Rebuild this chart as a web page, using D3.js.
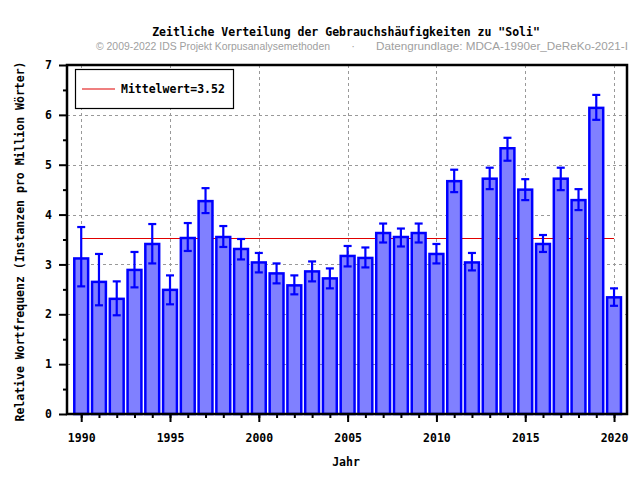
<!DOCTYPE html>
<html><head><meta charset="utf-8">
<script src="https://cdn.jsdelivr.net/npm/d3@7"></script>
<style>body{margin:0;background:#fff}svg{display:block}</style>
</head><body>
<script>
const years = d3.range(1990, 2021);
const values = [3.12,2.65,2.31,2.89,3.41,2.49,3.53,4.27,3.55,3.31,3.04,2.82,2.58,2.86,2.72,3.17,3.13,3.63,3.55,3.63,3.21,4.67,3.04,4.72,5.33,4.50,3.41,4.72,4.29,6.14,2.34];
const upper  = [3.75,3.21,2.66,3.25,3.81,2.78,3.83,4.53,3.77,3.51,3.23,3.02,2.78,3.06,2.92,3.37,3.34,3.82,3.72,3.82,3.41,4.90,3.23,4.94,5.54,4.71,3.59,4.94,4.51,6.40,2.52];
const lower  = [2.56,2.18,1.98,2.54,3.02,2.20,3.27,4.03,3.35,3.10,2.84,2.62,2.40,2.66,2.52,2.96,2.94,3.44,3.36,3.44,3.02,4.45,2.88,4.51,5.08,4.29,3.25,4.49,4.09,5.90,2.17];
const meanValue = 3.52;
const yTicks = [0,1,2,3,4,5,6,7];
const xTicks = [1990,1995,2000,2005,2010,2015,2020];
const title = 'Zeitliche Verteilung der Gebrauchshäufigkeiten zu "Soli"';
const subLeft = '© 2009-2022 IDS Projekt Korpusanalysemethoden';
const subRight = 'Datengrundlage: MDCA-1990er_DeReKo-2021-I';
const xLabel = 'Jahr';
const yLabel = 'Relative Wortfrequenz (Instanzen pro Million Wörter)';
const legendLabel = 'Mittelwert=' + meanValue.toFixed(2);

const W = 640, H = 480;
const L = 67, R = 627, T = 65, B = 414;
const mono = '"DejaVu Sans Mono", monospace';

const svg = d3.select('body').append('svg').attr('width', W).attr('height', H);
const x = d3.scaleLinear().domain([1989.2, 2020.73]).range([L, R]);
const y = d3.scaleLinear().domain([0, 7]).range([B, T]);

// grid
const grid = svg.append('g').attr('stroke', '#999').attr('stroke-dasharray', '3,3').attr('stroke-width', 1);
grid.selectAll('line.h').data(yTicks.filter(v => v > 0 && v < 7)).join('line')
  .attr('x1', L).attr('x2', R).attr('y1', d => Math.round(y(d)) + 0.5).attr('y2', d => Math.round(y(d)) + 0.5);
grid.selectAll('line.v').data(xTicks).join('line')
  .attr('y1', T).attr('y2', B).attr('x1', d => Math.round(x(d)) + 0.5).attr('x2', d => Math.round(x(d)) + 0.5);

// mean line
svg.append('line').attr('x1', x(1990)).attr('x2', x(2020)).attr('y1', y(meanValue)).attr('y2', y(meanValue))
  .attr('stroke', '#e00000').attr('stroke-width', 1.2);

// bars
const bw = (x(1991) - x(1990)) * 0.78;
svg.append('g').selectAll('rect').data(years).join('rect')
  .attr('x', (d) => x(d) - bw / 2).attr('width', bw)
  .attr('y', (d, i) => y(values[i])).attr('height', (d, i) => y(0) - y(values[i]))
  .attr('fill', '#8080ff').attr('stroke', '#0000ff').attr('stroke-width', 2.5);

// error bars
const eb = svg.append('g').attr('stroke', '#0000ff').attr('stroke-width', 2.2);
years.forEach((yr, i) => {
  const cx = x(yr);
  eb.append('line').attr('x1', cx).attr('x2', cx).attr('y1', y(upper[i])).attr('y2', y(lower[i]));
  eb.append('line').attr('x1', cx - 4).attr('x2', cx + 4).attr('y1', y(upper[i])).attr('y2', y(upper[i]));
  eb.append('line').attr('x1', cx - 4).attr('x2', cx + 4).attr('y1', y(lower[i])).attr('y2', y(lower[i]));
});

// axes
const xAxisMinor = d3.axisBottom(x).tickValues(years).tickSize(4).tickFormat('');
const xAxisMajor = d3.axisBottom(x).tickValues(xTicks).tickSize(8).tickPadding(12).tickFormat(d3.format('d'));
const yAxisMinor = d3.axisLeft(y).tickValues(d3.range(0.5, 7, 1)).tickSize(4).tickFormat('');
const yAxisMajor = d3.axisLeft(y).tickValues(yTicks).tickSize(8).tickPadding(7).tickFormat(d3.format('d'));
function style(g) {
  g.select('.domain').remove();
  g.selectAll('line').attr('stroke', '#000').attr('stroke-width', 2);
  g.selectAll('text').attr('font-family', mono).attr('font-weight', 'bold').attr('font-size', '11.5px').attr('fill', '#000');
}
svg.append('g').attr('transform', `translate(0,${B})`).call(xAxisMinor).call(style);
svg.append('g').attr('transform', `translate(0,${B})`).call(xAxisMajor).call(style);
svg.append('g').attr('transform', `translate(${L},0)`).call(yAxisMinor).call(style);
svg.append('g').attr('transform', `translate(${L},0)`).call(yAxisMajor).call(style);

// frame
svg.append('rect').attr('x', L).attr('y', T).attr('width', R - L).attr('height', B - T)
  .attr('fill', 'none').attr('stroke', '#000').attr('stroke-width', 2.5);

// legend
svg.append('rect').attr('x', 75.5).attr('y', 69.5).attr('width', 158).attr('height', 39)
  .attr('fill', '#fff').attr('stroke', '#000').attr('stroke-width', 1.2);
svg.append('line').attr('x1', 82).attr('x2', 115).attr('y1', 89).attr('y2', 89).attr('stroke', '#e00000').attr('stroke-width', 1.2);
svg.append('text').attr('x', 121).attr('y', 93).text(legendLabel)
  .attr('font-family', mono).attr('font-weight', 'bold').attr('font-size', '11.5px');

// titles
svg.append('text').attr('x', 346).attr('y', 36).attr('text-anchor', 'middle').text(title)
  .attr('font-family', mono).attr('font-weight', 'bold').attr('font-size', '11.5px');
const sub = svg.append('g').attr('font-family', '"Liberation Sans", Arial, sans-serif').attr('font-size', '11px').attr('fill', '#a0a0a0');
sub.append('text').attr('x', 96).attr('y', 50).attr('textLength', 234).attr('lengthAdjust', 'spacingAndGlyphs').text(subLeft);
sub.append('text').attr('x', 353).attr('y', 50).attr('text-anchor', 'middle').text('·');
sub.append('text').attr('x', 376).attr('y', 50).attr('textLength', 252).attr('lengthAdjust', 'spacingAndGlyphs').text(subRight);

svg.append('text').attr('x', 346).attr('y', 466).attr('text-anchor', 'middle').text(xLabel)
  .attr('font-family', mono).attr('font-weight', 'bold').attr('font-size', '11.5px');
svg.append('text').attr('transform', `translate(24,${(T + B) / 2 + 2}) rotate(-90)`).attr('text-anchor', 'middle').text(yLabel)
  .attr('font-family', mono).attr('font-weight', 'bold').attr('font-size', '11.5px');
</script>
</body></html>
